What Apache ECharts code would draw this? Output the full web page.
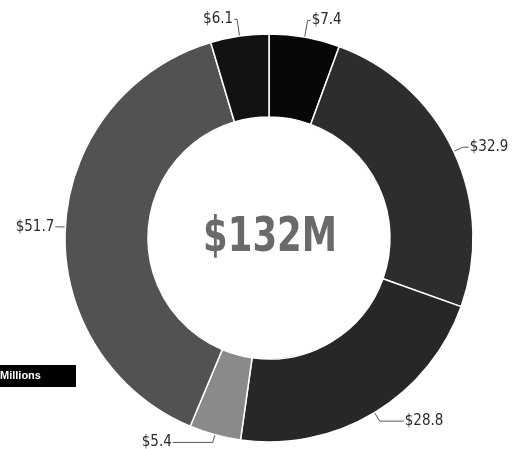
<!DOCTYPE html>
<html>
<head>
<meta charset="utf-8">
<script src="https://cdn.jsdelivr.net/npm/echarts@6/dist/echarts.min.js"></script>
<style>html,body{margin:0;padding:0;background:#fff;}#c{width:518px;height:449px;}</style>
</head>
<body>
<div id="c"></div>
<script>
const categories = ['A', 'B', 'C', 'D', 'E', 'F'];
const values = [7.4, 32.9, 28.8, 5.4, 51.7, 6.1];
const labels = ['$7.4', '$32.9', '$28.8', '$5.4', '$51.7', '$6.1'];
const colors = ['#070707', '#2d2d2d', '#272727', '#8a8a8a', '#525252', '#121212'];
const centerText = '$132M';
const unitText = 'Millions';

const lineLen = [[17, 3], [10, 6], [10, 24], [8, 40], [5, 5], [17, 3]];

const chart = echarts.init(document.getElementById('c'));
chart.setOption({
  animation: false,
  series: [{
    type: 'pie',
    center: [269, 238],
    radius: [121, 204],
    startAngle: 90,
    clockwise: true,
    avoidLabelOverlap: false,
    itemStyle: { borderColor: '#fff', borderWidth: 1.5 },
    label: {
      show: true,
      position: 'outside',
      color: '#2a2a2a',
      fontSize: 15,
      fontFamily: '"DejaVu Sans Condensed", sans-serif',
      formatter: p => labels[p.dataIndex],
      distanceToLabelLine: 1
    },
    labelLine: {
      show: true,
      lineStyle: { color: '#555', width: 1 }
    },
    data: categories.map((c, i) => ({
      name: c, value: values[i],
      itemStyle: { color: colors[i] },
      labelLine: { length: lineLen[i][0], length2: lineLen[i][1] }
    }))
  }],
  graphic: [
    {
      type: 'text',
      x: 270, y: 239,
      scaleX: 0.82,
      style: {
        text: centerText,
        x: 0, y: 0,
        align: 'center', verticalAlign: 'middle',
        font: 'bold 48px "DejaVu Sans Condensed", sans-serif',
        fill: '#6a6a6a'
      }
    },
    {
      type: 'rect',
      shape: { x: 0, y: 365, width: 76, height: 22 },
      style: { fill: '#000' }
    },
    {
      type: 'text',
      style: {
        text: unitText,
        x: 0, y: 376,
        verticalAlign: 'middle',
        font: 'bold 11px "Liberation Sans", Arial, sans-serif',
        fill: '#fff'
      }
    }
  ]
});
</script>
</body>
</html>
